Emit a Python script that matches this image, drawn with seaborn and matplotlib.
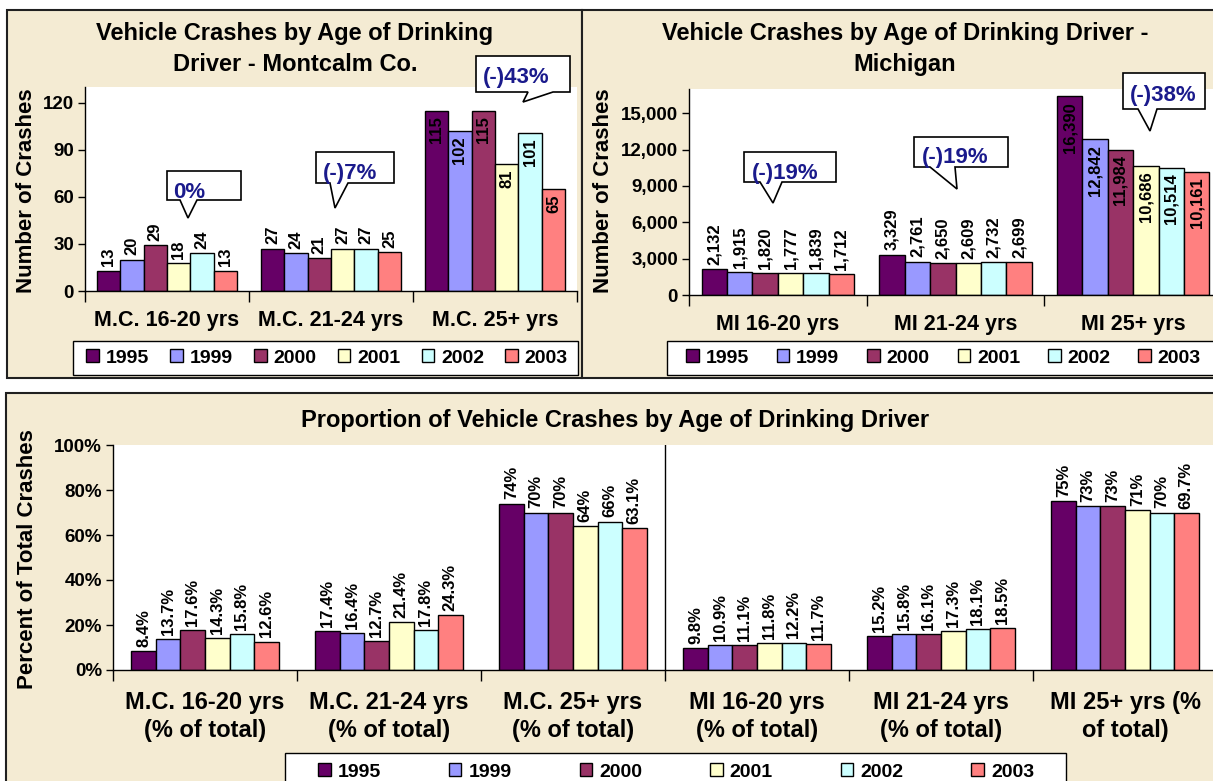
import numpy as np
import pandas as pd
import matplotlib
matplotlib.use("Agg")
import matplotlib.pyplot as plt
import matplotlib.transforms as mtransforms
from matplotlib.patches import Rectangle, Polygon, Patch
from matplotlib.ticker import FixedLocator, FuncFormatter
import seaborn as sns

# ------------------------------------------------------------
# Data
# ------------------------------------------------------------
years = ["1995", "1999", "2000", "2001", "2002", "2003"]
year_colors = ["#660066", "#9999FF", "#993366", "#FFFFCC", "#CCFFFF", "#FF8080"]

mc_groups = ["M.C. 16-20 yrs", "M.C. 21-24 yrs", "M.C. 25+ yrs"]
mc_16_20 = [13, 20, 29, 18, 24, 13]
mc_21_24 = [27, 24, 21, 27, 27, 25]
mc_25_up = [115, 102, 115, 81, 101, 65]
mc_change = ["0%", "(-)7%", "(-)43%"]

mi_groups = ["MI 16-20 yrs", "MI 21-24 yrs", "MI 25+ yrs"]
mi_16_20 = [2132, 1915, 1820, 1777, 1839, 1712]
mi_21_24 = [3329, 2761, 2650, 2609, 2732, 2699]
mi_25_up = [16390, 12842, 11984, 10686, 10514, 10161]
mi_change = ["(-)19%", "(-)19%", "(-)38%"]

pct_groups = ["M.C. 16-20 yrs\n(% of total)", "M.C. 21-24 yrs\n(% of total)",
              "M.C. 25+ yrs\n(% of total)", "MI 16-20 yrs\n(% of total)",
              "MI 21-24 yrs\n(% of total)", "MI 25+ yrs (%\nof total)"]
pct_mc_16_20 = [8.4, 13.7, 17.6, 14.3, 15.8, 12.6]
pct_mc_21_24 = [17.4, 16.4, 12.7, 21.4, 17.8, 24.3]
pct_mc_25_up = [74, 70, 70, 64, 66, 63.1]
pct_mi_16_20 = [9.8, 10.9, 11.1, 11.8, 12.2, 11.7]
pct_mi_21_24 = [15.2, 15.8, 16.1, 17.3, 18.1, 18.5]
pct_mi_25_up = [75, 73, 73, 71, 70, 69.7]
pct_label_mc_25_up = ["74%", "70%", "70%", "64%", "66%", "63.1%"]
pct_label_mi_25_up = ["75%", "73%", "73%", "71%", "70%", "69.7%"]

# ------------------------------------------------------------
# Style
# ------------------------------------------------------------
plt.rcParams["font.family"] = ["Liberation Sans", "DejaVu Sans"]
plt.rcParams["font.weight"] = "bold"
plt.rcParams["axes.labelweight"] = "bold"

W, H = 1213, 781
PARCHMENT = "#F4EBD3"
CALLOUT_BLUE = "#1A1A8C"

fig = plt.figure(figsize=(W / 100, H / 100), dpi=100, facecolor="white")
# pixel coordinates measured from the top-left corner
pix = mtransforms.Affine2D().scale(1 / W, -1 / H).translate(0, 1) + fig.transFigure


def ax_rect(l, t, r, b):
    return [l / W, 1 - b / H, (r - l) / W, (b - t) / H]


# panel backgrounds
for x0, y0, w, h in [(7, 10, 575, 368), (582, 10, 650, 368), (6, 393, 1230, 420)]:
    fig.add_artist(Rectangle((x0, y0), w, h, transform=pix, facecolor=PARCHMENT,
                             edgecolor="#202020", linewidth=1.5, zorder=-5))


def draw_bars(ax, groups, series, width, ylim, yticks, fmt, labels, inside_groups):
    df = pd.DataFrame({
        "group": np.repeat(groups, len(years)),
        "year": years * len(groups),
        "value": np.concatenate(series),
    })
    sns.barplot(data=df, x="group", y="value", hue="year", order=groups,
                hue_order=years, palette=year_colors, width=width, saturation=1,
                edgecolor="black", linewidth=1, errorbar=None, legend=False, ax=ax)
    ax.set_facecolor("white")
    ax.set_ylim(*ylim)
    ax.set_xlim(-0.5, len(groups) - 0.5)
    ax.set_xlabel("")
    ax.set_ylabel("")
    ax.set_yticks(yticks)
    ax.yaxis.set_major_formatter(FuncFormatter(fmt))
    ax.spines[["top", "right"]].set_visible(False)
    for s in ["left", "bottom"]:
        ax.spines[s].set_color("black")
        ax.spines[s].set_linewidth(1)
    ax.tick_params(axis="y", length=5, width=1, color="black", labelsize=13.5, pad=3)
    ax.set_xticks(range(len(groups)))
    ax.set_xticklabels(groups)
    ax.xaxis.set_minor_locator(FixedLocator(np.arange(-0.5, len(groups), 1)))
    ax.tick_params(axis="x", which="major", length=0)
    ax.tick_params(axis="x", which="minor", length=8, width=1, color="black")

    # value labels, grouped by category position and sorted left to right
    bars = [p for p in ax.patches if p.get_height() > 0]
    by_group = {}
    for p in bars:
        g = int(round(p.get_x() + p.get_width() / 2))
        by_group.setdefault(g, []).append(p)
    for g, plist in by_group.items():
        plist.sort(key=lambda p: p.get_x())
        for i, p in enumerate(plist):
            xc = p.get_x() + p.get_width() / 2
            h = p.get_height()
            inside = g in inside_groups
            ax.annotate(labels[g][i], (xc, h), xytext=(0, -4 if inside else 3),
                        textcoords="offset points", rotation=90, ha="center",
                        va="top" if inside else "bottom", fontsize=12,
                        fontweight="bold", color="black")


# ------------------------------------------------------------
# Top-left: Montcalm Co.
# ------------------------------------------------------------
ax1 = fig.add_axes(ax_rect(85, 87, 577, 291))
mc_series = [mc_16_20, mc_21_24, mc_25_up]
draw_bars(ax1, mc_groups, mc_series, 6 / 7, (0, 130), [0, 30, 60, 90, 120],
          lambda v, p: f"{v:.0f}", [[str(v) for v in s] for s in mc_series], [2])
ax1.tick_params(axis="x", which="major", labelsize=15.5, pad=14)
ax1.set_ylabel("Number of Crashes", fontsize=16)
ax1.yaxis.set_label_coords(37, 191, transform=pix)

# ------------------------------------------------------------
# Top-right: Michigan
# ------------------------------------------------------------
ax2 = fig.add_axes(ax_rect(689, 89, 1222, 295))
mi_series = [mi_16_20, mi_21_24, mi_25_up]
draw_bars(ax2, mi_groups, mi_series, 6 / 7, (0, 17000), list(range(0, 15001, 3000)),
          lambda v, p: f"{v:,.0f}", [[f"{v:,}" for v in s] for s in mi_series], [2])
ax2.tick_params(axis="x", which="major", labelsize=15.5, pad=14)
ax2.set_ylabel("Number of Crashes", fontsize=16)
ax2.yaxis.set_label_coords(614, 191, transform=pix)

# ------------------------------------------------------------
# Bottom: proportions
# ------------------------------------------------------------
ax3 = fig.add_axes(ax_rect(113, 445, 1217, 670))
pct_series = [pct_mc_16_20, pct_mc_21_24, pct_mc_25_up,
              pct_mi_16_20, pct_mi_21_24, pct_mi_25_up]
pct_labels = [[f"{v:.1f}%" for v in s] for s in pct_series]
pct_labels[2] = pct_label_mc_25_up
pct_labels[5] = pct_label_mi_25_up
draw_bars(ax3, pct_groups, [np.array(s) / 100 for s in pct_series], 0.8, (0, 1),
          [0, 0.2, 0.4, 0.6, 0.8, 1.0], lambda v, p: f"{v * 100:.0f}%", pct_labels, [])
ax3.axvline(2.5, color="black", linewidth=1)
ax3.tick_params(axis="x", which="major", labelsize=17, pad=15)
for t in ax3.get_xticklabels():
    t.set_linespacing(1.3)
ax3.set_ylabel("Percent of Total Crashes", fontsize=16)
ax3.yaxis.set_label_coords(38, 559, transform=pix)

# ------------------------------------------------------------
# Titles
# ------------------------------------------------------------
fig.text(295, 49, "Vehicle Crashes by Age of Drinking\nDriver - Montcalm Co.", transform=pix,
         ha="center", va="center", fontsize=17, fontweight="bold", linespacing=1.45)
fig.text(905, 49, "Vehicle Crashes by Age of Drinking Driver -\nMichigan", transform=pix,
         ha="center", va="center", fontsize=17, fontweight="bold", linespacing=1.45)
fig.text(615, 420, "Proportion of Vehicle Crashes by Age of Drinking Driver", transform=pix,
         ha="center", va="center", fontsize=17, fontweight="bold")

# ------------------------------------------------------------
# Change callouts (box corners, pointer base, tip, text centre in pixels)
# ------------------------------------------------------------
callout_geom = [
    (167, 171, 241, 200, 180, 197, 188, 218, 189, 193),
    (316, 152, 394, 183, 330, 348, 335, 208, 350, 173),
    (476, 56, 570, 92, 528, 553, 523, 102, 516, 78),
    (744, 152, 836, 182, 760, 782, 773, 203, 785, 173),
    (914, 137, 1008, 167, 930, 955, 957, 189, 955, 158),
    (1123, 73, 1205, 109, 1138, 1157, 1150, 131, 1163, 95),
]
for txt, (x0, y0, x1, y1, b0, b1, tx, ty, cx, cy) in zip(mc_change + mi_change, callout_geom):
    poly = Polygon([(x0, y0), (x1, y0), (x1, y1), (b1, y1), (tx, ty), (b0, y1), (x0, y1)],
                   closed=True, transform=pix, facecolor="white", edgecolor="black",
                   linewidth=1.2, zorder=10)
    fig.add_artist(poly)
    fig.text(cx, cy, txt, transform=pix, ha="center", va="center", fontsize=16,
             fontweight="bold", color=CALLOUT_BLUE, zorder=11)

# ------------------------------------------------------------
# Legends
# ------------------------------------------------------------
handles = [Patch(facecolor=c, edgecolor="black", linewidth=1) for c in year_colors]
legend_geom = [
    ((73, 341, 578, 375), (86, 568, 358)),
    ((667, 341, 1230, 375), (686, 1201, 358)),
    ((285, 753, 1066, 800), (318, 1034, 772)),
]
for (fl, ft, fr, fb), (cl, cr, cy) in legend_geom:
    fig.add_artist(Rectangle((fl, ft), fr - fl, fb - ft, transform=pix, facecolor="white",
                             edgecolor="black", linewidth=1, zorder=6))
    x0 = cl / W
    y0 = 1 - (cy + 10) / H
    leg = fig.legend(handles, years, loc="center", ncol=6, mode="expand",
                     bbox_to_anchor=(x0, y0, (cr - cl) / W, 20 / H),
                     frameon=False, borderpad=0, borderaxespad=0,
                     handlelength=0.65, handleheight=0.65, handletextpad=0.35,
                     prop={"size": 14, "weight": "bold"})
    leg.set_zorder(7)

fig.savefig("out.png", dpi=100, facecolor="white")
